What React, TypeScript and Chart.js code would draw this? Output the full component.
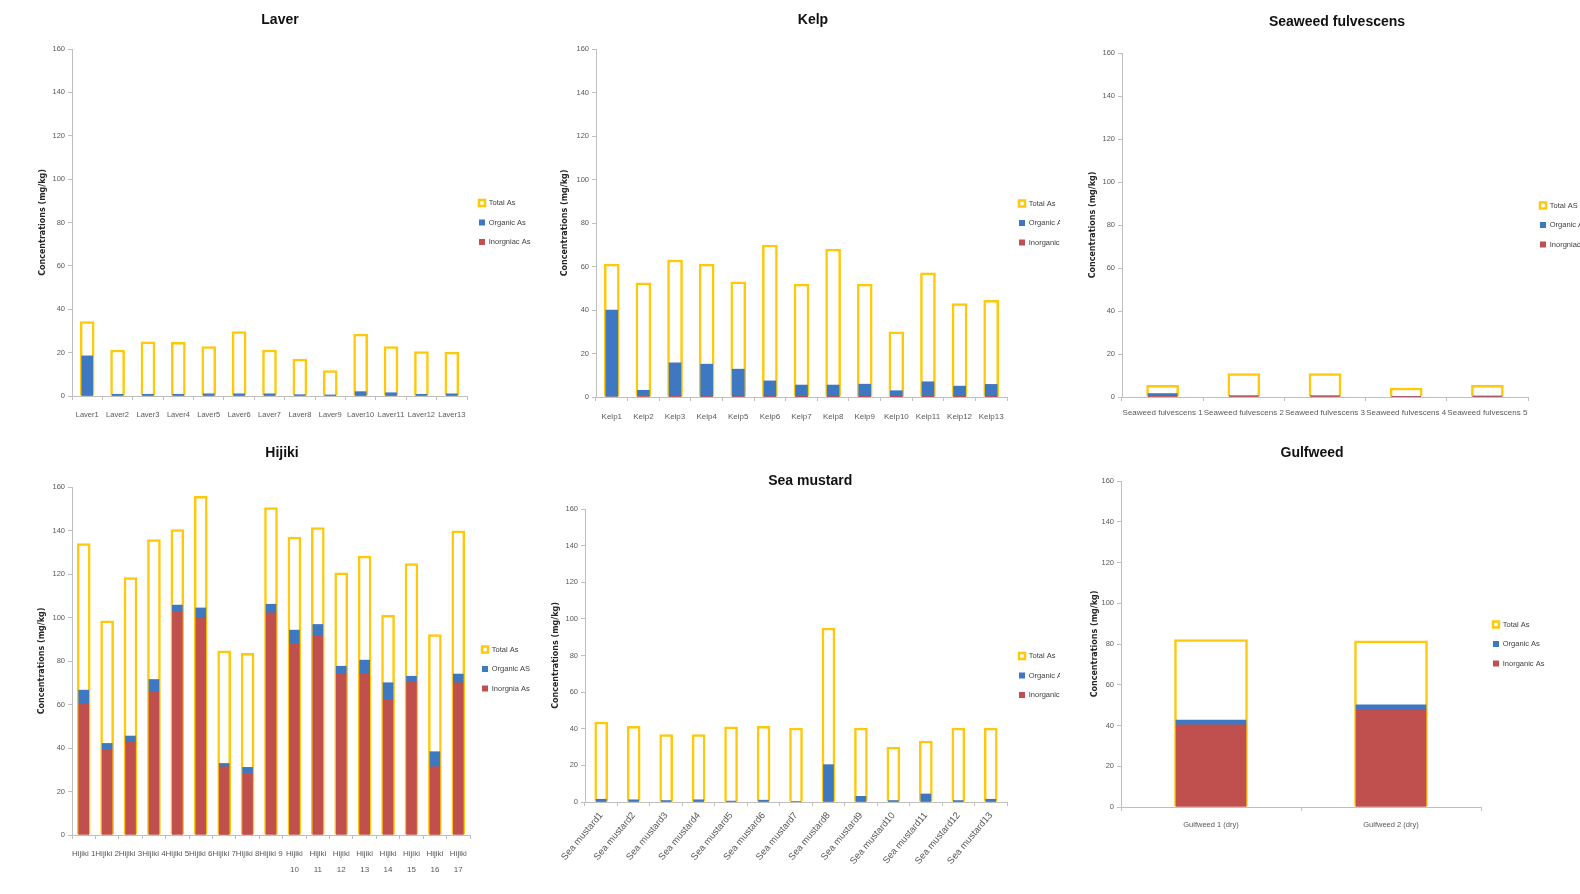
import React, { useEffect, useRef } from 'react';
import { Chart, registerables } from 'chart.js';

Chart.register(...registerables);

// ---------- data ----------
const Y_MAX = 160;
const Y_STEP = 20;
const Y_TITLE = 'Concentrations (mg/kg)';

const laverLabels = ['Laver1', 'Laver2', 'Laver3', 'Laver4', 'Laver5', 'Laver6', 'Laver7', 'Laver8', 'Laver9', 'Laver10', 'Laver11', 'Laver12', 'Laver13'];
const laverTotal = [34.3, 21.2, 25.0, 24.8, 22.8, 29.7, 21.2, 17.0, 11.7, 28.5, 22.8, 20.5, 20.2];
const laverOrganic = [18.5, 0.8, 0.8, 0.8, 1.0, 1.0, 1.0, 0.6, 0.5, 2.0, 1.5, 0.8, 1.0];
const laverInorganic = [0, 0, 0, 0, 0, 0, 0, 0, 0, 0, 0, 0, 0];
const laverLegend = ['Total As', 'Organic As', 'Inorgniac As'];

const kelpLabels = ['Kelp1', 'Kelp2', 'Kelp3', 'Kelp4', 'Kelp5', 'Kelp6', 'Kelp7', 'Kelp8', 'Kelp9', 'Kelp10', 'Kelp11', 'Kelp12', 'Kelp13'];
const kelpTotal = [61.1, 52.5, 63.0, 61.1, 53.0, 69.9, 51.9, 68.0, 51.9, 30.0, 57.1, 43.0, 44.5];
const kelpOrganic = [40.0, 2.6, 15.4, 14.9, 12.6, 7.2, 5.4, 5.4, 5.8, 2.8, 6.9, 4.9, 5.7];
const kelpInorganic = [0, 0.5, 0.3, 0.2, 0.2, 0.2, 0.1, 0.1, 0.1, 0.1, 0.1, 0.1, 0.1];
const kelpLegend = ['Total As', 'Organic As', 'Inorganic As'];

const seaweedLabels = ['Seaweed fulvescens 1', 'Seaweed fulvescens 2', 'Seaweed fulvescens 3', 'Seaweed fulvescens 4', 'Seaweed fulvescens 5'];
const seaweedTotal = [5.4, 10.9, 10.9, 4.2, 5.4];
const seaweedOrganic = [1.2, 0.2, 0.2, 0.1, 0.3];
const seaweedInorganic = [0.4, 0.4, 0.4, 0.2, 0.2];
const seaweedLegend = ['Total AS', 'Organic As', 'Inorgniac As'];

const hijikiLabels = ['Hijiki 1', 'Hijiki 2', 'Hijiki 3', 'Hijiki 4', 'Hijiki 5', 'Hijiki 6', 'Hijiki 7', 'Hijiki 8', 'Hijiki 9',
  ['Hijiki', '10'], ['Hijiki', '11'], ['Hijiki', '12'], ['Hijiki', '13'], ['Hijiki', '14'], ['Hijiki', '15'], ['Hijiki', '16'], ['Hijiki', '17']];
const hijikiTotal = [134.0, 98.5, 118.4, 135.8, 140.4, 155.7, 84.7, 83.5, 150.5, 137.0, 141.3, 120.5, 128.2, 101.0, 124.8, 92.2, 139.8];
const hijikiOrganic = [6.4, 2.7, 2.9, 5.7, 3.1, 4.6, 1.5, 2.8, 4.0, 6.2, 5.4, 3.3, 6.1, 8.0, 2.6, 6.9, 4.0];
const hijikiInorganic = [60.2, 39.4, 42.6, 65.8, 102.6, 99.8, 31.4, 28.3, 102.1, 88.0, 91.4, 74.3, 74.3, 62.0, 70.4, 31.4, 70.0];
const hijikiLegend = ['Total As', 'Organic AS', 'Inorgnia As'];

const mustardLabels = ['Sea mustard1', 'Sea mustard2', 'Sea mustard3', 'Sea mustard4', 'Sea mustard5', 'Sea mustard6', 'Sea mustard7', 'Sea mustard8', 'Sea mustard9', 'Sea mustard10', 'Sea mustard11', 'Sea mustard12', 'Sea mustard13'];
const mustardTotal = [43.7, 41.3, 36.8, 36.8, 41.0, 41.3, 40.4, 95.0, 40.4, 30.0, 33.2, 40.4, 40.4];
const mustardOrganic = [1.5, 1.2, 0.8, 1.2, 0.5, 1.0, 0.3, 20.4, 3.1, 0.8, 4.4, 0.8, 1.5];
const mustardInorganic = [0, 0, 0, 0, 0, 0, 0, 0, 0, 0, 0, 0, 0];
const mustardLegend = ['Total As', 'Organic As', 'Inorganic As'];

const gulfLabels = ['Gulfweed 1 (dry)', 'Gulfweed 2 (dry)'];
const gulfTotal = [82.2, 81.5];
const gulfOrganic = [2.3, 2.6];
const gulfInorganic = [40.3, 47.5];
const gulfLegend = ['Total As', 'Organic As', 'Inorganic As'];

// ---------- styles ----------
const NARROW = "'Liberation Sans Narrow', 'Arial Narrow', 'Liberation Sans', sans-serif";
const WIDE = "'DejaVu Sans', 'Liberation Sans', sans-serif";
const YELLOW = '#FFC90A';
const BLUE = '#3E77C2';
const RED = '#C0504D';
const AXIS = '#BFBFBF';
const TICK = '#595959';
const TITLE_SIZE = 14;
const YT_SIZE = 8;

type Spec = {
  title: string;
  labels: any[];
  total: number[];
  organic: number[];
  inorganic: number[];
  legend: string[];
  box: { x: number; y: number; w: number; h: number };
  canvasW: number;
  plot: { l: number; r: number; t: number; b: number };
  titleX: number;
  titleY: number;
  yTitleX: number;
  legendShift: number;
  barW: number;
  xPad: number;
  xFont: number;
  xLineHeight?: string;
  rot: number;
};

const specs: Spec[] = [
  {
    title: 'Laver', labels: laverLabels, total: laverTotal, organic: laverOrganic, inorganic: laverInorganic, legend: laverLegend,
    box: { x: 0, y: 0, w: 540, h: 440 }, canvasW: 540, plot: { l: 72, r: 467, t: 49, b: 396 },
    titleX: 280, titleY: 20, yTitleX: 43, legendShift: 0, barW: 14, xPad: 10, xFont: 7.5, rot: 0,
  },
  {
    title: 'Kelp', labels: kelpLabels, total: kelpTotal, organic: kelpOrganic, inorganic: kelpInorganic, legend: kelpLegend,
    box: { x: 540, y: 0, w: 520, h: 440 }, canvasW: 600, plot: { l: 596, r: 1007, t: 49, b: 397 },
    titleX: 813, titleY: 20, yTitleX: 565, legendShift: 0, barW: 15, xPad: 11, xFont: 8, rot: 0,
  },
  {
    title: 'Seaweed fulvescens', labels: seaweedLabels, total: seaweedTotal, organic: seaweedOrganic, inorganic: seaweedInorganic, legend: seaweedLegend,
    box: { x: 1060, y: 0, w: 520, h: 440 }, canvasW: 600, plot: { l: 1122, r: 1528, t: 53, b: 397 },
    titleX: 1337, titleY: 22, yTitleX: 1093, legendShift: 0, barW: 32, xPad: 7, xFont: 8, rot: 0,
  },
  {
    title: 'Hijiki', labels: hijikiLabels, total: hijikiTotal, organic: hijikiOrganic, inorganic: hijikiInorganic, legend: hijikiLegend,
    box: { x: 0, y: 440, w: 540, h: 454 }, canvasW: 540, plot: { l: 72, r: 470, t: 487, b: 835 },
    titleX: 282, titleY: 453, yTitleX: 42, legendShift: 8, barW: 13, xPad: 7, xFont: 8, xLineHeight: '16px', rot: 0,
  },
  {
    title: 'Sea mustard', labels: mustardLabels, total: mustardTotal, organic: mustardOrganic, inorganic: mustardInorganic, legend: mustardLegend,
    box: { x: 540, y: 460, w: 520, h: 434 }, canvasW: 600, plot: { l: 585, r: 1007, t: 509, b: 802 },
    titleX: 808, titleY: 481, yTitleX: 556, legendShift: 20, barW: 13, xPad: 4, xFont: 9.5, rot: 50,
  },
  {
    title: 'Gulfweed', labels: gulfLabels, total: gulfTotal, organic: gulfOrganic, inorganic: gulfInorganic, legend: gulfLegend,
    box: { x: 1060, y: 430, w: 520, h: 464 }, canvasW: 520, plot: { l: 1121, r: 1481, t: 481, b: 807 },
    titleX: 1312, titleY: 453, yTitleX: 1095, legendShift: 0, barW: 73, xPad: 9, xFont: 7.5, rot: 0,
  },
];

function Panel({ s }: { s: Spec }) {
  const ref = useRef<HTMLCanvasElement>(null);
  useEffect(() => {
    if (!ref.current) return;
    const cx = s.box.x;
    const cy = s.box.y;
    const yTitleHalf = (YT_SIZE * 1.2) / 2;
    const titleLH = TITLE_SIZE * 1.2;
    const padT = s.titleY - cy - titleLH / 2;
    const titleGap = s.plot.t - cy - padT - titleLH;
    const xAxisH = cy + s.box.h - s.plot.b;

    // first guess (adjusted after the legend has measured itself)
    let padL = s.yTitleX - yTitleHalf - cx;
    let yAxisW = s.plot.l - cx - padL;
    let legendW = 60;
    let padR = cx + s.canvasW - legendW - s.plot.r;

    const legendTitle = s.legendShift > 0
      ? { display: true, text: ' ', font: { size: 1, lineHeight: 1 }, padding: { top: 0, bottom: 2 * s.legendShift - 1 } }
      : { display: false };

    const chart = new Chart(ref.current, {
      type: 'bar',
      data: {
        labels: s.labels,
        datasets: [
          {
            label: s.legend[2], data: s.inorganic, backgroundColor: RED, borderWidth: 0,
            stack: 'parts', grouped: false, barPercentage: 1, categoryPercentage: 1, maxBarThickness: s.barW - 3,
          },
          {
            label: s.legend[1], data: s.organic, backgroundColor: BLUE, borderWidth: 0,
            stack: 'parts', grouped: false, barPercentage: 1, categoryPercentage: 1, maxBarThickness: s.barW - 3,
          },
          {
            label: s.legend[0], data: s.total, backgroundColor: '#FFFFFF', borderColor: YELLOW, borderWidth: 2.5,
            stack: 'total', grouped: false, barPercentage: 1, categoryPercentage: 1, maxBarThickness: s.barW,
          },
        ] as any,
      },
      options: {
        responsive: false,
        maintainAspectRatio: false,
        animation: false,
        events: [],
        layout: { padding: { left: padL, right: padR, top: padT, bottom: 0 } },
        plugins: {
          title: {
            display: true, text: s.title, color: '#111111',
            font: { family: NARROW, size: TITLE_SIZE, weight: 'bold', lineHeight: 1.2 },
            padding: { top: 0, bottom: titleGap },
          },
          legend: {
            display: true, position: 'right', align: 'center', fullSize: false, reverse: true,
            title: legendTitle as any,
            labels: {
              boxWidth: 6, boxHeight: 6, padding: 12, color: '#404040',
              font: { family: NARROW, size: 7.5 },
            },
          },
          tooltip: { enabled: false },
        },
        scales: {
          x: {
            offset: true,
            ticks: {
              autoSkip: false, maxRotation: s.rot, minRotation: s.rot, padding: s.xPad, color: TICK,
              font: { family: NARROW, size: s.xFont, lineHeight: s.xLineHeight || 1.2 },
            },
            grid: { display: true, offset: true, drawOnChartArea: false, drawTicks: true, tickLength: 4, color: AXIS },
            border: { display: true, color: AXIS, width: 1 },
            afterFit: (sc: any) => { sc.height = xAxisH; },
          },
          y: {
            min: 0, max: Y_MAX, stacked: true,
            ticks: { stepSize: Y_STEP, padding: 3, color: TICK, font: { family: NARROW, size: 7.5 } },
            grid: { display: true, drawOnChartArea: false, drawTicks: true, tickLength: 4, color: AXIS },
            border: { display: true, color: AXIS, width: 1 },
            title: {
              display: true, text: Y_TITLE, color: '#262626', padding: { top: 0, bottom: 0 },
              font: { family: WIDE, size: YT_SIZE, weight: 'bold', lineHeight: 1.2 },
            },
            afterFit: (sc: any) => { sc.width = yAxisW; },
          },
        },
      } as any,
    });

    // second pass: use the measured legend width to centre the title like the reference
    const lg: any = (chart as any).legend;
    if (lg && lg.width) {
      legendW = lg.width;
      const maxP = s.yTitleX - yTitleHalf - cx;
      let p = 2 * s.titleX - s.plot.r - legendW - cx;
      p = Math.max(0, Math.min(maxP, p));
      padL = p;
      yAxisW = s.plot.l - cx - padL;
      padR = cx + s.canvasW - legendW - s.plot.r;
      const tPad = s.yTitleX - cx - padL - yTitleHalf;
      (chart.options as any).layout.padding = { left: padL, right: padR, top: padT, bottom: 0 };
      (chart.options as any).scales.y.title.padding = { top: tPad, bottom: 0 };
      chart.update();
    }
    return () => chart.destroy();
  }, [s]);

  return (
    <div style={{ position: 'absolute', left: s.box.x, top: s.box.y, width: s.box.w, height: s.box.h, overflow: 'hidden' }}>
      <canvas ref={ref} width={s.canvasW} height={s.box.h} style={{ display: 'block' }} />
    </div>
  );
}

export default function App() {
  return (
    <div style={{ position: 'absolute', left: 0, top: 0, width: 1580, height: 894, overflow: 'hidden', background: '#FFFFFF' }}>
      {specs.map((s) => (
        <Panel key={s.title} s={s} />
      ))}
    </div>
  );
}
